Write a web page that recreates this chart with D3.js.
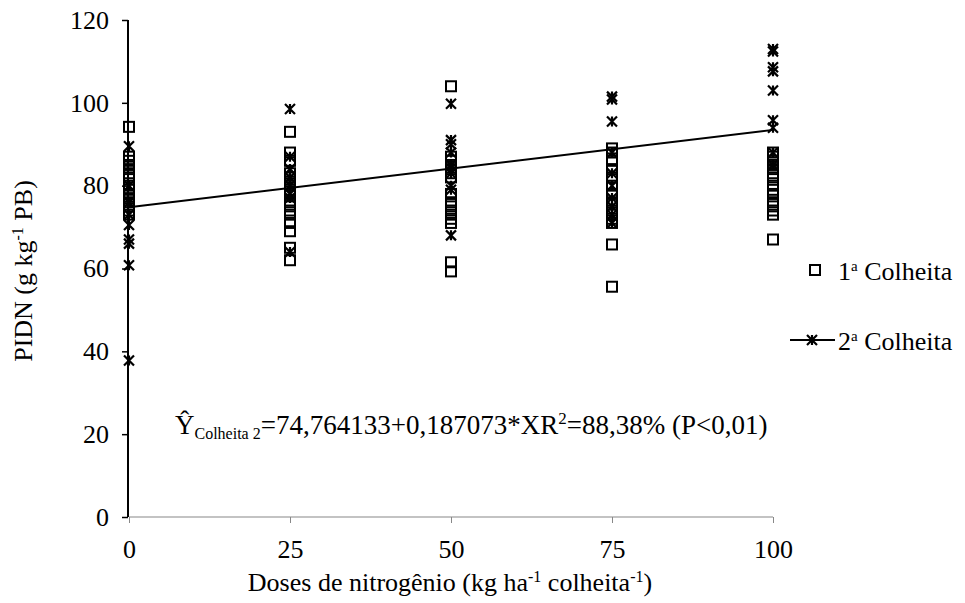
<!DOCTYPE html>
<html>
<head>
<meta charset="utf-8">
<script src="https://cdn.jsdelivr.net/npm/d3@7"></script>
</head>
<body style="margin:0">
<script>
// doses de nitrogênio
let doses = [0, 25, 50, 75, 100];

// 1ª Colheita (squares), one array per dose
let colheita1 = [
	[94.2, 87, 86, 85, 84, 83, 82, 80, 79, 78, 77, 76, 75, 74, 73],
	[93, 88, 86, 83, 82, 81, 80, 79, 78, 76, 75, 74, 73, 71, 69, 65, 62],
	[104, 87, 86, 85, 84, 83, 82, 78, 76, 75, 74, 73, 72, 71, 61.5, 59.3],
	[89, 88, 86, 84, 82, 80, 78, 76, 74, 73, 72, 71, 65.8, 55.6],
	[88, 87, 86, 85, 84, 83, 82, 80, 79, 78, 76, 75, 74, 73, 67]
];

// 2ª Colheita (stars)
let colheita2 = [
	[89.5, 80, 76, 73, 70.5, 67, 66, 60.8, 37.8],
	[98.5, 87, 84, 82, 80, 78, 77, 64],
	[99.8, 91, 90, 88, 85, 83, 80, 79, 68],
	[101.5, 100.8, 95.5, 88, 83, 80, 77, 75, 73, 71],
	[113, 112.4, 108.6, 107.6, 103, 95.8, 94, 88, 85]
];

let xTicks = [0, 25, 50, 75, 100];
let yTicks = [0, 20, 40, 60, 80, 100, 120];
let intercept = 74.764133, slope = 0.187073;

let width = 965, height = 603;
let fontName = "Liberation Serif";
let fs = 26;

let x = d3.scaleLinear().domain([0, 100]).range([129, 773]);
let y = d3.scaleLinear().domain([0, 120]).range([517, 20]);

let svg = d3.select("body").append("svg")
	.attr("width", width)
	.attr("height", height)
	.attr("font-family", fontName);

// axes
let xAxis = svg.append("g")
	.attr("transform", `translate(0,${y(0)})`)
	.call(d3.axisBottom(x).tickValues(xTicks).tickSize(6).tickPadding(17))
	.attr("font-family", fontName)
	.attr("font-size", fs);
xAxis.select(".domain").attr("stroke", "#888").attr("stroke-width", 1.2).attr("d", `M${x(0)},0H${x(100)}`);
xAxis.selectAll(".tick line").attr("stroke", "#888");

let yAxis = svg.append("g")
	.attr("transform", `translate(${x(0) - 1},0)`)
	.call(d3.axisLeft(y).tickValues(yTicks).tickSize(6).tickPadding(13))
	.attr("font-family", fontName)
	.attr("font-size", fs);
yAxis.select(".domain").attr("stroke", "#000").attr("stroke-width", 2).attr("d", `M0,${y(120)}V${y(0)}`);
yAxis.selectAll(".tick line").attr("stroke", "#000").attr("stroke-width", 1.5);

// axis titles
let xt = svg.append("text")
	.attr("x", 450).attr("y", 591)
	.attr("text-anchor", "middle")
	.attr("font-family", fontName)
	.attr("font-size", fs);
xt.append("tspan").text("Doses de nitrogênio (kg ha");
xt.append("tspan").attr("dy", -9).attr("font-size", 16).text("-1");
xt.append("tspan").attr("dy", 9).text(" colheita");
xt.append("tspan").attr("dy", -9).attr("font-size", 16).text("-1");
xt.append("tspan").attr("dy", 9).text(")");

let yt = svg.append("text")
	.attr("transform", "translate(32,271) rotate(-90)")
	.attr("text-anchor", "middle")
	.attr("font-family", fontName)
	.attr("font-size", fs);
yt.append("tspan").text("PIDN (g kg");
yt.append("tspan").attr("dy", -9).attr("font-size", 16).text("-1");
yt.append("tspan").attr("dy", 9).text(" PB)");

// marker shapes
let starPath = s => `M${-s},${-s}L${s},${s}M${-s},${s}L${s},${-s}M0,${-s}V${s}`;

let flat = (arr) => arr.flatMap((vals, i) => vals.map(v => ({dose: doses[i], v: v})));

// 1ª Colheita squares
svg.append("g").selectAll("rect")
	.data(flat(colheita1))
	.enter().append("rect")
	.attr("x", d => x(d.dose) - 5)
	.attr("y", d => y(d.v) - 5)
	.attr("width", 10).attr("height", 10)
	.attr("fill", "none")
	.attr("stroke", "#000")
	.attr("stroke-width", 2);

// 2ª Colheita stars
svg.append("g").selectAll("path")
	.data(flat(colheita2))
	.enter().append("path")
	.attr("transform", d => `translate(${x(d.dose)},${y(d.v)})`)
	.attr("d", starPath(5))
	.attr("stroke", "#000")
	.attr("stroke-width", 2.2);

// regression line
svg.append("line")
	.attr("x1", x(0)).attr("y1", y(intercept))
	.attr("x2", x(100)).attr("y2", y(intercept + slope * 100))
	.attr("stroke", "#000")
	.attr("stroke-width", 2);

// equation
let eq = svg.append("text")
	.attr("x", 175).attr("y", 434)
	.attr("font-family", fontName)
	.attr("font-size", 27);
eq.append("tspan").text("Ŷ");
eq.append("tspan").attr("dy", 5).attr("font-size", 16).text("Colheita 2");
eq.append("tspan").attr("dy", -5).text("=74,764133+0,187073*XR");
eq.append("tspan").attr("dy", -10).attr("font-size", 17).text("2");
eq.append("tspan").attr("dy", 10).text("=88,38% (P<0,01)");

// legend
svg.append("rect")
	.attr("x", 810).attr("y", 265).attr("width", 10).attr("height", 10)
	.attr("fill", "none").attr("stroke", "#000").attr("stroke-width", 2);
svg.append("text").attr("x", 838).attr("y", 280)
	.attr("font-family", fontName).attr("font-size", fs)
	.call(t => {
		t.append("tspan").text("1");
		t.append("tspan").attr("dy", -9).attr("font-size", 15).text("a");
		t.append("tspan").attr("dy", 9).text(" Colheita");
	});

svg.append("line")
	.attr("x1", 790).attr("x2", 835).attr("y1", 340).attr("y2", 340)
	.attr("stroke", "#000").attr("stroke-width", 2);
svg.append("path")
	.attr("transform", "translate(812,340)")
	.attr("d", starPath(5))
	.attr("stroke", "#000").attr("stroke-width", 2.2);
svg.append("text").attr("x", 838).attr("y", 350)
	.attr("font-family", fontName).attr("font-size", fs)
	.call(t => {
		t.append("tspan").text("2");
		t.append("tspan").attr("dy", -9).attr("font-size", 15).text("a");
		t.append("tspan").attr("dy", 9).text(" Colheita");
	});
</script>
</body>
</html>
